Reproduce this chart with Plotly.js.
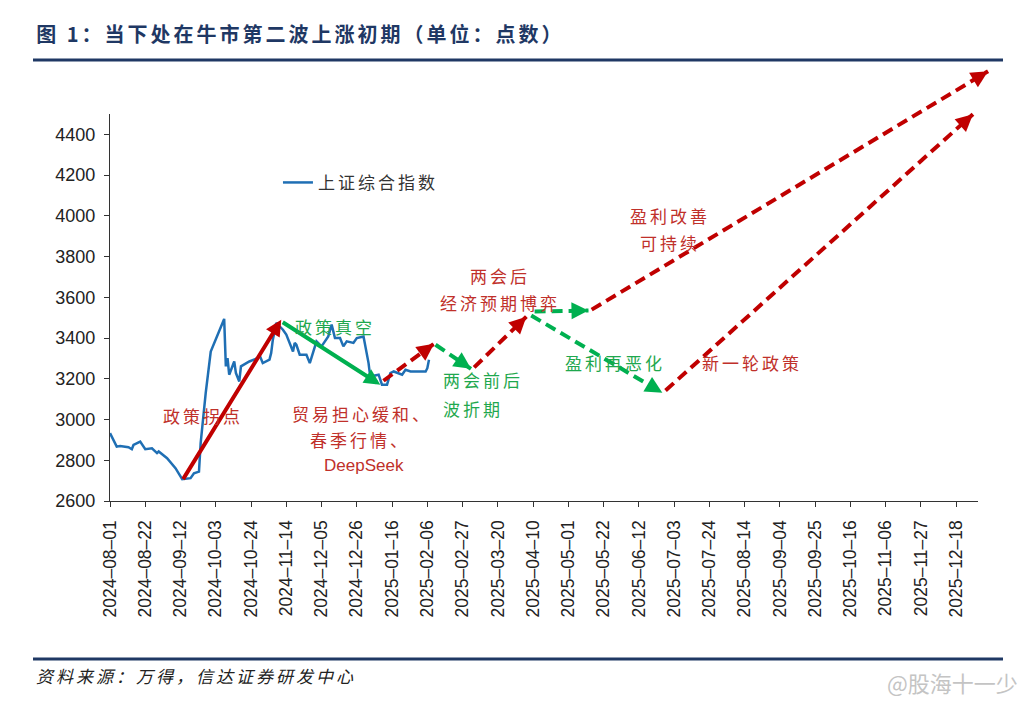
<!DOCTYPE html>
<html>
<head>
<meta charset="utf-8">
<script src="https://cdn.plot.ly/plotly-3.0.1.min.js"></script>
<style>
  html, body { margin: 0; padding: 0; background: #fff; }
  #chart { width: 1034px; height: 707px; }
</style>
</head>
<body>
<div id="chart"></div>
<script>
// 上证综合指数
const indexDates = [
  '2024-08-01','2024-08-05','2024-08-07','2024-08-12','2024-08-14','2024-08-15','2024-08-19','2024-08-22','2024-08-26','2024-08-29','2024-08-30',
  '2024-09-04','2024-09-09','2024-09-13','2024-09-18','2024-09-20','2024-09-23','2024-09-24','2024-09-27','2024-09-30',
  '2024-10-08','2024-10-09','2024-10-10','2024-10-11','2024-10-14','2024-10-15','2024-10-17','2024-10-18','2024-10-23','2024-10-28','2024-10-29','2024-10-31',
  '2024-11-04','2024-11-05','2024-11-06','2024-11-08','2024-11-12','2024-11-14','2024-11-18','2024-11-19','2024-11-20','2024-11-22','2024-11-26','2024-11-28',
  '2024-12-02','2024-12-05','2024-12-09','2024-12-11','2024-12-13','2024-12-16','2024-12-18','2024-12-20','2024-12-24','2024-12-26','2024-12-30',
  '2025-01-02','2025-01-03','2025-01-08','2025-01-10','2025-01-13','2025-01-15','2025-01-17','2025-01-22','2025-01-24','2025-01-27',
  '2025-02-05','2025-02-06','2025-02-07'
];
const indexValues = [
  2933,2867,2870,2864,2854,2875,2892,2854,2859,2835,2843,
  2810,2761,2707,2712,2736,2744,2884,3130,3334,
  3494,3261,3302,3220,3285,3228,3187,3261,3285,3302,3318,3277,
  3294,3327,3392,3474,3441,3417,3334,3376,3367,3318,3318,3277,
  3384,3359,3408,3466,3400,3400,3359,3384,3376,3400,3408,
  3277,3211,3220,3171,3171,3228,3236,3220,3244,3236,
  3236,3252,3294
];

const xTicks = [
  '2024-08-01','2024-08-22','2024-09-12','2024-10-03','2024-10-24','2024-11-14','2024-12-05','2024-12-26',
  '2025-01-16','2025-02-06','2025-02-27','2025-03-20','2025-04-10','2025-05-01','2025-05-22','2025-06-12',
  '2025-07-03','2025-07-24','2025-08-14','2025-09-04','2025-09-25','2025-10-16','2025-11-06','2025-11-27','2025-12-18'
];
const yTicks = [2600, 2800, 3000, 3200, 3400, 3600, 3800, 4000, 4200, 4400];

// scenario arrows (tail -> head)
const arrowFromDates  = ['2024-09-13','2024-11-11','2025-01-10','2025-02-10','2025-03-05','2025-04-10','2025-04-08','2025-05-14','2025-06-27'];
const arrowFromValues = [2700, 3482, 3185, 3372, 3249, 3530, 3515, 3535, 3136];
const arrowToDates    = ['2024-11-11','2025-01-09','2025-02-10','2025-03-04','2025-04-06','2025-05-13','2025-06-26','2026-01-06','2025-12-28'];
const arrowToValues   = [3490, 3171, 3372, 3249, 3505, 3535, 3131, 4710, 4499];
const arrowTrend      = ['up','down','up','down','up','down','down','up','up'];
const arrowKind       = ['actual','actual','forecast','forecast','forecast','forecast','forecast','forecast','forecast'];

const RED = '#C00000';
const GREEN = '#00B050';
const RED_TEXT = '#C0302A';
const GREEN_TEXT = '#1FA84E';
const CJK = '"Noto Sans CJK SC", "Noto Sans", sans-serif';
const NUM = 'Arial, "Liberation Sans", sans-serif';

function spaced(t, px) {
  return '<span style="letter-spacing:' + px + 'px">' + t + '</span>';
}

const arrowNotes = arrowFromDates.map((d, i) => ({
  xref: 'x', yref: 'y', axref: 'x', ayref: 'y',
  x: arrowToDates[i], y: arrowToValues[i],
  ax: d, ay: arrowFromValues[i],
  text: '', showarrow: true, standoff: 0,
  arrowhead: 2,
  arrowsize: arrowKind[i] === 'actual' ? 0.8 : 0.85,
  arrowwidth: 4,
  arrowcolor: arrowTrend[i] === 'up' ? RED : GREEN
}));

function label(text, x, y, color, anchor) {
  return {
    xref: 'paper', yref: 'paper', x: x, y: y,
    xanchor: anchor || 'center', yanchor: 'middle',
    text: spaced(text, 3), showarrow: false,
    font: { family: CJK, size: 17, color: color }
  };
}

const textNotes = [
  label('政策拐点', 0.107, 0.220, RED_TEXT),
  label('政策真空', 0.259, 0.452, GREEN_TEXT),
  label('贸易担心缓和、', 0.290, 0.227, RED_TEXT),
  label('春季行情、', 0.288, 0.158, RED_TEXT),
  {
    xref: 'paper', yref: 'paper', x: 0.2926, y: 0.093, xanchor: 'center', yanchor: 'middle',
    text: 'DeepSeek', showarrow: false, font: { family: NUM, size: 17, color: RED_TEXT }
  },
  label('两会前后', 0.3813, 0.3127, GREEN_TEXT, 'left'),
  label('波折期', 0.3813, 0.2403, GREEN_TEXT, 'left'),
  label('两会后', 0.4493, 0.5814, RED_TEXT),
  label('经济预期博弈', 0.4493, 0.5142, RED_TEXT),
  label('盈利再恶化', 0.5818, 0.3566, GREEN_TEXT),
  label('新一轮政策', 0.7396, 0.3566, RED_TEXT),
  label('盈利改善', 0.6452, 0.739, RED_TEXT),
  label('可持续', 0.6452, 0.667, RED_TEXT),
  {
    xref: 'paper', yref: 'paper', x: -0.088, y: -0.452, xanchor: 'left', yanchor: 'middle',
    text: '<i>' + spaced('资料来源：万得，信达证券研发中心', 3) + '</i>', showarrow: false,
    font: { family: CJK, size: 17, color: '#222' }
  },
  {
    xref: 'paper', yref: 'paper', x: 1.048, y: -0.468, xanchor: 'right', yanchor: 'middle',
    text: '@股海十一少', showarrow: false,
    font: { family: CJK, size: 22, color: '#c4c4c4' }
  }
];

const traces = [{
  x: indexDates,
  y: indexValues,
  type: 'scatter',
  mode: 'lines',
  name: spaced('上证综合指数', 3),
  line: { color: '#1F6FB4', width: 2.5 }
}];

const layout = {
  width: 1034,
  height: 707,
  margin: { l: 110, r: 56, t: 114, b: 206 },
  paper_bgcolor: '#fff',
  plot_bgcolor: '#fff',
  title: {
    text: '<b>' + spaced('图 1：当下处在牛市第二波上涨初期（单位：点数）', 3) + '</b>',
    xref: 'container', yref: 'container',
    x: 0.035, xanchor: 'left', y: 0.951, yanchor: 'middle',
    font: { family: CJK, size: 20, color: '#1F3864' }
  },
  showlegend: true,
  legend: {
    x: 0.1935, y: 0.822, xanchor: 'left', yanchor: 'middle',
    bgcolor: 'rgba(0,0,0,0)',
    font: { family: CJK, size: 17, color: '#333' }
  },
  xaxis: {
    type: 'date',
    range: ['2024-08-01', '2025-12-31'],
    tickmode: 'array',
    tickvals: xTicks,
    ticktext: xTicks.map(t => t.replace(/-/g, '\u2013')),
    tickangle: -90,
    ticks: 'outside', ticklen: 5, tickcolor: '#333', tickwidth: 1,
    ticklabelstandoff: 6,
    showline: true, linecolor: '#333', linewidth: 1.2,
    showgrid: false, zeroline: false,
    tickfont: { family: NUM, size: 17.5, color: '#222' }
  },
  yaxis: {
    range: [2600, 4500],
    tickmode: 'array',
    tickvals: yTicks,
    ticks: 'outside', ticklen: 5, tickcolor: '#333', tickwidth: 1,
    ticklabelstandoff: 5,
    showline: true, linecolor: '#333', linewidth: 1.2,
    showgrid: false, zeroline: false,
    tickfont: { family: NUM, size: 18, color: '#222' }
  },
  shapes: [
    { type: 'line', xref: 'paper', yref: 'paper', x0: -0.0887, x1: 1.0288, y0: 1.1395, y1: 1.1395,
      line: { color: '#1F3864', width: 3 } },
    { type: 'line', xref: 'paper', yref: 'paper', x0: -0.0887, x1: 1.0288, y0: -0.408, y1: -0.408,
      line: { color: '#1F3864', width: 3 } }
  ],
  annotations: arrowNotes.concat(textNotes)
};

// forecast arrows are dashed: annotation arrows have no dash option, so set it on the drawn lines
function dashForecastArrows(gd) {
  const straight = /^M\s*[-\d.e]+\s*,\s*[-\d.e]+\s*L\s*[-\d.e]+\s*,\s*[-\d.e]+\s*$/;
  const lines = Array.from(gd.querySelectorAll('.infolayer path'))
    .filter(p => straight.test(p.getAttribute('d') || ''));
  lines.forEach((p, i) => {
    if (arrowKind[i] === 'forecast') p.style.strokeDasharray = '11px 6px';
  });
}

Plotly.newPlot('chart', traces, layout, { displayModeBar: false, staticPlot: true })
  .then(dashForecastArrows);
</script>
</body>
</html>
